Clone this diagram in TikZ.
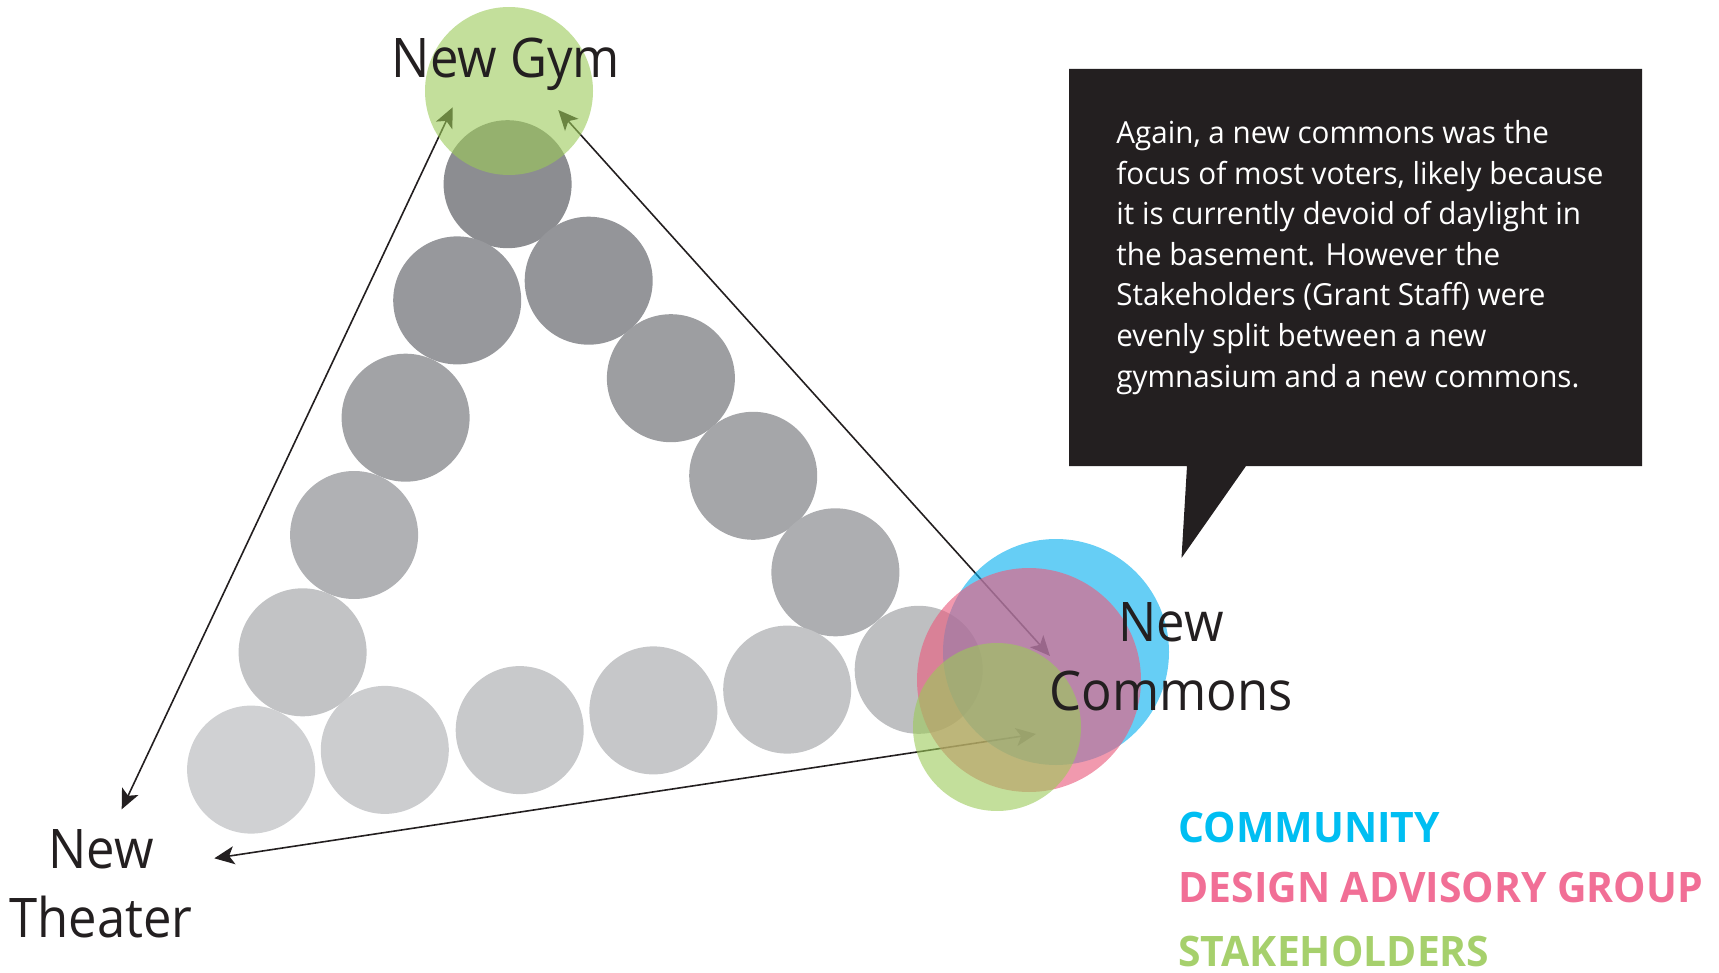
\documentclass[tikz,border=0pt]{standalone}
\usepackage{fontspec}
\setmainfont{Open Sans}
\newfontfamily\lblfont[FakeStretch=0.93]{Open Sans}
\newfontfamily\bodyfont[FakeStretch=0.974]{Open Sans}
\newfontfamily\legfont[FakeStretch=0.973]{Open Sans}
\usetikzlibrary{arrows.meta}
\definecolor{ink}{RGB}{35,31,32}
\definecolor{gA}{RGB}{140,141,145}
\definecolor{gB}{RGB}{151,152,156}
\definecolor{gC}{RGB}{148,149,153}
\definecolor{gD}{RGB}{162,163,166}
\definecolor{gE}{RGB}{157,158,161}
\definecolor{gF}{RGB}{176,177,180}
\definecolor{gG}{RGB}{165,166,169}
\definecolor{gH}{RGB}{194,195,197}
\definecolor{gI}{RGB}{173,174,177}
\definecolor{gJ}{RGB}{208,209,211}
\definecolor{gK}{RGB}{204,205,207}
\definecolor{gL}{RGB}{200,201,203}
\definecolor{gM}{RGB}{198,199,201}
\definecolor{gN}{RGB}{195,196,198}
\definecolor{gO}{RGB}{190,191,193}
\definecolor{cblue}{RGB}{0,174,239}
\definecolor{cpink}{RGB}{233,95,128}
\definecolor{cgreen}{RGB}{155,202,88}
\definecolor{tblue}{RGB}{0,190,242}
\definecolor{tpink}{RGB}{241,111,150}
\definecolor{tgreen}{RGB}{166,208,108}
\begin{document}
\begin{tikzpicture}[x=0.5pt,y=-0.5pt,
  dot/.style={circle,minimum size=64pt,inner sep=0pt,draw=none},
  group/.style={circle,inner sep=0pt,draw=none,fill opacity=0.6},
  link/.style={draw=ink,line width=0.8pt,{Stealth[length=10pt,width=9pt,inset=2.5pt]}-{Stealth[length=10pt,width=9pt,inset=2.5pt]}},
  lbl/.style={inner sep=0pt,text=ink,font={\lblfont\fontsize{27.3pt}{34.5pt}\selectfont},align=center},
  leg/.style={inner sep=0pt,anchor=base west,font={\legfont\bfseries\fontsize{21pt}{25pt}\selectfont}},
  bubble/.style={fill=ink,draw=none}]
\useasboundingbox (0,0) rectangle (1719,973);
% gray circles
\node[dot,fill=gA] (d1) at (507.6,184.2) {};
\node[dot,fill=gB] (d2) at (457.2,300.4) {};
\node[dot,fill=gC] (d3) at (588.7,280.7) {};
\node[dot,fill=gD] (d4) at (405.6,417.7) {};
\node[dot,fill=gE] (d5) at (670.9,378.2) {};
\node[dot,fill=gF] (d6) at (354.1,535.0) {};
\node[dot,fill=gG] (d7) at (753.2,475.8) {};
\node[dot,fill=gH] (d8) at (302.6,652.3) {};
\node[dot,fill=gI] (d9) at (835.4,572.3) {};
\node[dot,fill=gJ] (d10) at (251.1,769.6) {};
\node[dot,fill=gK] (d11) at (384.8,749.9) {};
\node[dot,fill=gL] (d12) at (519.7,730.1) {};
\node[dot,fill=gM] (d13) at (653.4,710.4) {};
\node[dot,fill=gN] (d14) at (787.2,689.6) {};
\node[dot,fill=gO] (d15) at (918.7,669.8) {};
% arrow ends
\coordinate (gymL) at (452.7,107.3);
\coordinate (gymR) at (558.3,110);
\coordinate (thA) at (121.7,809.3);
\coordinate (thB) at (214.3,858.3);
\coordinate (coA) at (1050,656);
\coordinate (coB) at (1036,734);
\draw[link] (gymL) -- (thA);
\draw[link] (gymR) -- (coA);
\draw[link] (coB) -- (thB);
% group circles
\node[group,fill=cblue,minimum size=113pt] (comm) at (1056,652) {};
\node[group,fill=cpink,fill opacity=0.64,minimum size=112pt] (dag) at (1029,680) {};
\node[group,fill=cgreen,minimum size=84pt] (stk) at (997,727) {};
\node[group,fill=cgreen,minimum size=84pt] (stkgym) at (509,91) {};
% labels
\node[lbl,anchor=base] (gym) at (506,77.7) {New Gym};
\node[lbl,anchor=north] (commons) at (1171,601.7) {New\\Commons};
\node[lbl,anchor=north] (theater) at (101,829.5) {New\\Theater};
% speech bubble
\fill[bubble] (1069,69) -- (1642,69) -- (1642,466) -- (1246,466) -- (1181.5,558) -- (1187,466) -- (1069,466) -- cycle;
\node[inner sep=0pt,anchor=north west,text=white,align=left,
  font={\bodyfont\fontsize{15.2pt}{20.3pt}\selectfont}] (note) at (1116,120)
  {Again, a new commons was the\\
   focus of most voters, likely because\\
   it is currently devoid of daylight in\\
   the basement. However the\\
   Stakeholders (Grant Staff) were\\
   evenly split between a new\\
   gymnasium and a new commons.};
% legend
\node[leg,text=tblue] (l1) at (1178,842) {COMMUNITY};
\node[leg,text=tpink] (l2) at (1178,902) {DESIGN ADVISORY GROUP};
\node[leg,text=tgreen] (l3) at (1178,966) {STAKEHOLDERS};
\end{tikzpicture}
\end{document}
